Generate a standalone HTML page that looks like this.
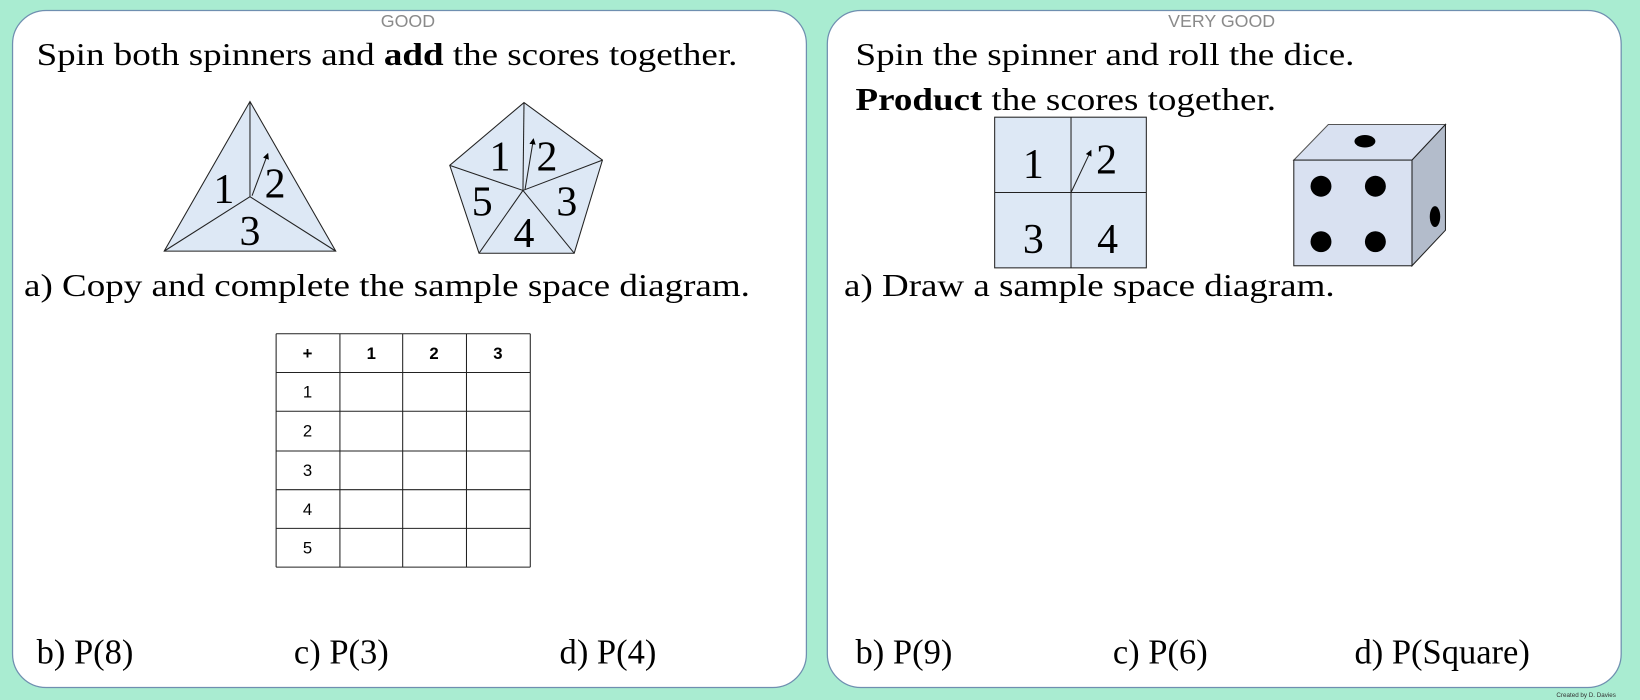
<!DOCTYPE html>
<html><head><meta charset="utf-8"><style>html,body{margin:0;padding:0;background:#a9ecd1;}svg{display:block}</style></head>
<body>
<svg width="1640" height="700" viewBox="0 0 1568 669" preserveAspectRatio="none" xmlns="http://www.w3.org/2000/svg">
<rect width="1568" height="669" fill="#a9ecd1"/>
<rect x="12" y="10" width="759" height="647" rx="32" fill="#fff" stroke="#6f8fb0" stroke-width="1.2"/>
<rect x="791" y="10" width="759" height="647" rx="32" fill="#fff" stroke="#6f8fb0" stroke-width="1.2"/>
<g font-family="Liberation Sans, sans-serif" font-size="17" fill="#8a8a8a" text-anchor="middle">
<text x="390" y="26">GOOD</text><text x="1168" y="26">VERY GOOD</text></g>
<g font-family="Liberation Serif, serif" font-size="30" fill="#000">
<text x="35" y="62" textLength="670" lengthAdjust="spacingAndGlyphs">Spin both spinners and <tspan font-weight="bold">add</tspan> the scores together.</text>
<text x="23" y="283" textLength="694" lengthAdjust="spacingAndGlyphs">a) Copy and complete the sample space diagram.</text>
<text x="818" y="62" textLength="477" lengthAdjust="spacingAndGlyphs">Spin the spinner and roll the dice.</text>
<text x="818" y="105" textLength="402" lengthAdjust="spacingAndGlyphs"><tspan font-weight="bold">Product</tspan> the scores together.</text>
<text x="807" y="283" textLength="469" lengthAdjust="spacingAndGlyphs">a) Draw a sample space diagram.</text>
</g>
<g font-family="Liberation Serif, serif" font-size="33" fill="#000">
<text x="35" y="634">b) P(8)</text><text x="281" y="634">c) P(3)</text><text x="535" y="634">d) P(4)</text>
<text x="818" y="634">b) P(9)</text><text x="1064" y="634">c) P(6)</text><text x="1295" y="634">d) P(Square)</text>
</g>
<defs><marker id="ah" markerWidth="6" markerHeight="6" refX="5" refY="3" orient="auto"><path d="M0,0 L6,3 L0,6z" fill="#000"/></marker></defs>
<g stroke="#222" stroke-width="1" fill="#dde8f5">
<polygon points="239,97 321,240 157,240"/>
<line x1="239" y1="188" x2="239" y2="97"/><line x1="239" y1="188" x2="157" y2="240"/><line x1="239" y1="188" x2="321" y2="240"/>
<line x1="241" y1="187" x2="256" y2="147" marker-end="url(#ah)"/>
<polygon points="501,98 576,153 549,242 458,242 430,158"/>
<line x1="500" y1="182" x2="501" y2="98"/><line x1="500" y1="182" x2="576" y2="153"/><line x1="500" y1="182" x2="549" y2="242"/><line x1="500" y1="182" x2="458" y2="242"/><line x1="500" y1="182" x2="430" y2="158"/>
<line x1="502" y1="181" x2="510" y2="133" marker-end="url(#ah)"/>
<rect x="951" y="112" width="145" height="144"/>
<line x1="1024" y1="112" x2="1024" y2="256"/><line x1="951" y1="184" x2="1096" y2="184"/>
<line x1="1024" y1="184" x2="1043" y2="144" marker-end="url(#ah)"/>
<polygon points="1237,153 1270,119 1382,119 1350,153" fill="#d9e1f1" stroke="#555"/>
<polygon points="1350,153 1382,119 1382,220 1350,254" fill="#b3bccb"/>
<rect x="1237" y="153" width="113" height="101" fill="#d9e1f1"/>
</g>
<g fill="#000">
<circle cx="1263" cy="178" r="10"/><circle cx="1315" cy="178" r="10"/><circle cx="1263" cy="231" r="10"/><circle cx="1315" cy="231" r="10"/>
<ellipse cx="1305" cy="135" rx="10" ry="6"/><ellipse cx="1372" cy="207" rx="5" ry="10"/>
</g>
<g font-family="Liberation Serif, serif" font-size="40" fill="#000" text-anchor="middle">
<text x="214" y="194">1</text><text x="263" y="189">2</text><text x="239" y="234">3</text>
<text x="478" y="163">1</text><text x="523" y="163">2</text><text x="542" y="206">3</text><text x="501" y="236">4</text><text x="461" y="206">5</text>
<text x="988" y="170">1</text><text x="1058" y="166">2</text><text x="988" y="242">3</text><text x="1059" y="242">4</text>
</g>
<g stroke="#222" stroke-width="1">
<line x1="264" y1="319" x2="507" y2="319"/><line x1="264" y1="356" x2="507" y2="356"/><line x1="264" y1="393" x2="507" y2="393"/><line x1="264" y1="431" x2="507" y2="431"/><line x1="264" y1="468" x2="507" y2="468"/><line x1="264" y1="505" x2="507" y2="505"/><line x1="264" y1="542" x2="507" y2="542"/>
<line x1="264" y1="319" x2="264" y2="542"/><line x1="325" y1="319" x2="325" y2="542"/><line x1="385" y1="319" x2="385" y2="542"/><line x1="446" y1="319" x2="446" y2="542"/><line x1="507" y1="319" x2="507" y2="542"/>
</g>
<g font-family="Liberation Sans, sans-serif" font-size="16" fill="#000" text-anchor="middle">
<text x="294" y="343" font-weight="bold">+</text><text x="355" y="343" font-weight="bold">1</text><text x="415" y="343" font-weight="bold">2</text><text x="476" y="343" font-weight="bold">3</text>
<text x="294" y="380">1</text><text x="294" y="417">2</text><text x="294" y="455">3</text><text x="294" y="492">4</text><text x="294" y="529">5</text>
</g>
<text x="1545" y="666" font-family="Liberation Sans, sans-serif" font-size="6" text-anchor="end" fill="#333">Created by D. Davies</text>
</svg>
</body></html>
